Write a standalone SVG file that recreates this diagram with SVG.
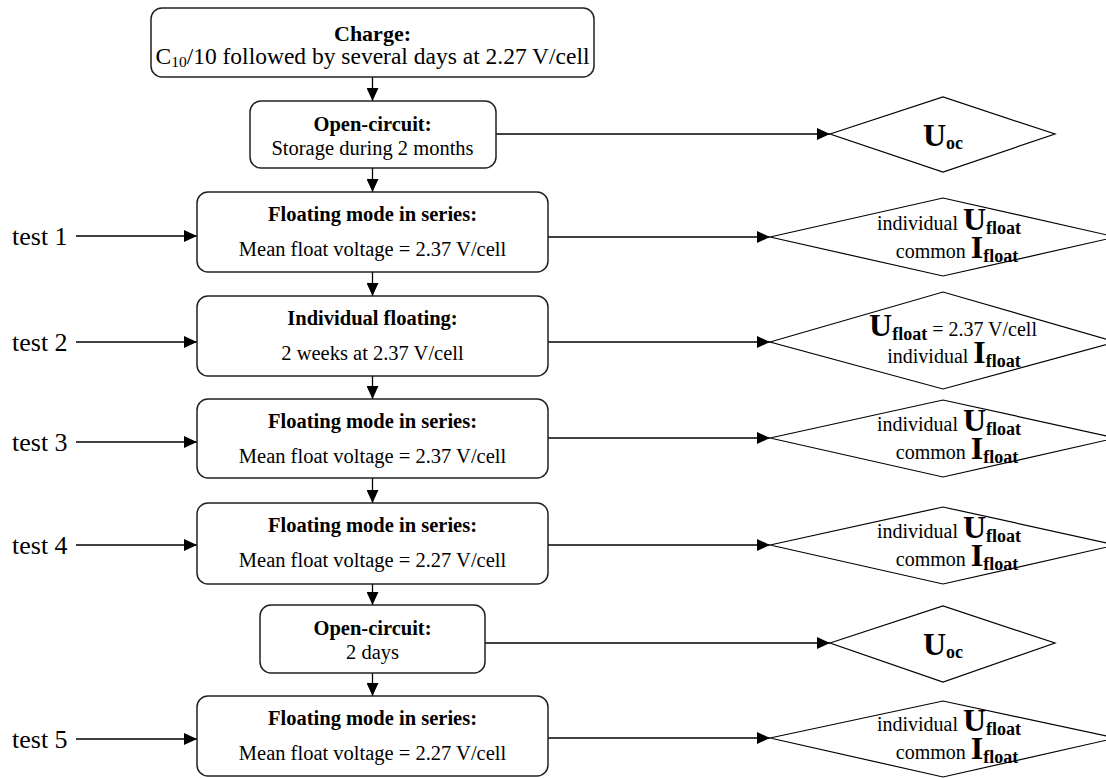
<svg xmlns="http://www.w3.org/2000/svg" width="1106" height="778" viewBox="0 0 1106 778">
<defs>
<marker id="ah" markerUnits="userSpaceOnUse" markerWidth="13" markerHeight="12" refX="13" refY="6" orient="auto">
<path d="M0,0 L13,6 L0,12 z" fill="#000"/>
</marker>
<style>
.box{fill:#fff;stroke:#222;stroke-width:1.5}
.dia{fill:#fff;stroke:#000;stroke-width:1.2}
.con{fill:none;stroke:#000;stroke-width:1.3;marker-end:url(#ah)}
text{font-family:"Liberation Serif","Times New Roman",serif;fill:#000}
.t{font-size:20.5px;text-anchor:middle}
.b{font-weight:bold}
.lab{font-size:26px}
.dt{font-size:20px;text-anchor:middle}
.big{font-size:32px;font-weight:bold}
.sub{font-size:18px;font-weight:bold}
</style>
</defs>
<rect width="1106" height="778" fill="#fff"/>
<g id="connectors">
<path class="con" d="M372.5,77 V101"/>
<path class="con" d="M372.5,168 V192"/>
<path class="con" d="M372.5,272 V296"/>
<path class="con" d="M372.5,376 V399"/>
<path class="con" d="M372.5,478 V503"/>
<path class="con" d="M372.5,584 V605"/>
<path class="con" d="M372.5,673 V696"/>
<path class="con" d="M76,236 H197"/>
<path class="con" d="M76,342 H197"/>
<path class="con" d="M76,442 H197"/>
<path class="con" d="M76,545 H197"/>
<path class="con" d="M76,739 H197"/>
<path class="con" d="M496,134 H830"/>
<path class="con" d="M548,237 H770"/>
<path class="con" d="M548,342 H770"/>
<path class="con" d="M548,438 H770"/>
<path class="con" d="M548,545 H770"/>
<path class="con" d="M485,643 H830"/>
<path class="con" d="M548,738 H770"/>
</g>
<g id="labels">
<text class="lab" x="12" y="245">test 1</text>
<text class="lab" x="12" y="351">test 2</text>
<text class="lab" x="12" y="451">test 3</text>
<text class="lab" x="12" y="554">test 4</text>
<text class="lab" x="12" y="748">test 5</text>
</g>
<g id="charge">
<rect class="box" x="151" y="8" width="443" height="69" rx="11"/>
<text class="t b" x="372.5" y="41" style="font-size:22px">Charge:</text>
<text class="t" x="372.5" y="64" style="font-size:23.5px">C<tspan font-size="15.5" dy="3">10</tspan><tspan dy="-3">/10 followed by several days at 2.27 V/cell</tspan></text>
</g>
<g id="open-circuit-1">
<rect class="box" x="250" y="101" width="246" height="67" rx="11"/>
<text class="t b" x="372.5" y="131">Open-circuit:</text>
<text class="t" x="372.5" y="155">Storage during 2 months</text>
</g>
<g id="float-1">
<rect class="box" x="197" y="192" width="351" height="80" rx="11"/>
<text class="t b" x="372.5" y="221">Floating mode in series:</text>
<text class="t" x="372.5" y="256">Mean float voltage = 2.37 V/cell</text>
</g>
<g id="individual-float">
<rect class="box" x="197" y="296" width="351" height="80" rx="11"/>
<text class="t b" x="372.5" y="325">Individual floating:</text>
<text class="t" x="372.5" y="360">2 weeks at 2.37 V/cell</text>
</g>
<g id="float-3">
<rect class="box" x="197" y="399" width="351" height="79" rx="11"/>
<text class="t b" x="372.5" y="428">Floating mode in series:</text>
<text class="t" x="372.5" y="463">Mean float voltage = 2.37 V/cell</text>
</g>
<g id="float-4">
<rect class="box" x="197" y="503" width="351" height="81" rx="11"/>
<text class="t b" x="372.5" y="532">Floating mode in series:</text>
<text class="t" x="372.5" y="567">Mean float voltage = 2.27 V/cell</text>
</g>
<g id="open-circuit-2">
<rect class="box" x="260" y="605" width="225" height="68" rx="11"/>
<text class="t b" x="372.5" y="635">Open-circuit:</text>
<text class="t" x="372.5" y="659">2 days</text>
</g>
<g id="float-5">
<rect class="box" x="197" y="696" width="351" height="80" rx="11"/>
<text class="t b" x="372.5" y="725">Floating mode in series:</text>
<text class="t" x="372.5" y="760">Mean float voltage = 2.27 V/cell</text>
</g>
<g id="uoc-1">
<polygon class="dia" points="830,134 943,97 1055,134 943,172"/>
<text class="dt" x="943" y="146"><tspan class="big">U</tspan><tspan class="sub" dy="3">oc</tspan></text>
</g>
<g id="result-1">
<polygon class="dia" points="770,237 943,198 1116,237 943,276"/>
<text class="dt" x="949" y="230">individual <tspan class="big">U</tspan><tspan class="sub" dy="4">float</tspan></text>
<text class="dt" x="957" y="258">common <tspan class="big">I</tspan><tspan class="sub" dy="4">float</tspan></text>
</g>
<g id="result-2">
<polygon class="dia" points="770,342 943,292 1116,342 943,389"/>
<text class="dt" x="953" y="336"><tspan class="big">U</tspan><tspan class="sub" dy="4">float</tspan><tspan dy="-4"> = 2.37 V/cell</tspan></text>
<text class="dt" x="954" y="363">individual <tspan class="big">I</tspan><tspan class="sub" dy="4">float</tspan></text>
</g>
<g id="result-3">
<polygon class="dia" points="770,438 943,400 1116,438 943,477"/>
<text class="dt" x="949" y="431">individual <tspan class="big">U</tspan><tspan class="sub" dy="4">float</tspan></text>
<text class="dt" x="957" y="459">common <tspan class="big">I</tspan><tspan class="sub" dy="4">float</tspan></text>
</g>
<g id="result-4">
<polygon class="dia" points="770,545 943,507 1116,545 943,584"/>
<text class="dt" x="949" y="538">individual <tspan class="big">U</tspan><tspan class="sub" dy="4">float</tspan></text>
<text class="dt" x="957" y="566">common <tspan class="big">I</tspan><tspan class="sub" dy="4">float</tspan></text>
</g>
<g id="uoc-2">
<polygon class="dia" points="830,643 943,606 1055,643 943,682"/>
<text class="dt" x="943" y="655"><tspan class="big">U</tspan><tspan class="sub" dy="3">oc</tspan></text>
</g>
<g id="result-5">
<polygon class="dia" points="770,738 943,701 1116,738 943,777"/>
<text class="dt" x="949" y="731">individual <tspan class="big">U</tspan><tspan class="sub" dy="4">float</tspan></text>
<text class="dt" x="957" y="759">common <tspan class="big">I</tspan><tspan class="sub" dy="4">float</tspan></text>
</g>
</svg>
